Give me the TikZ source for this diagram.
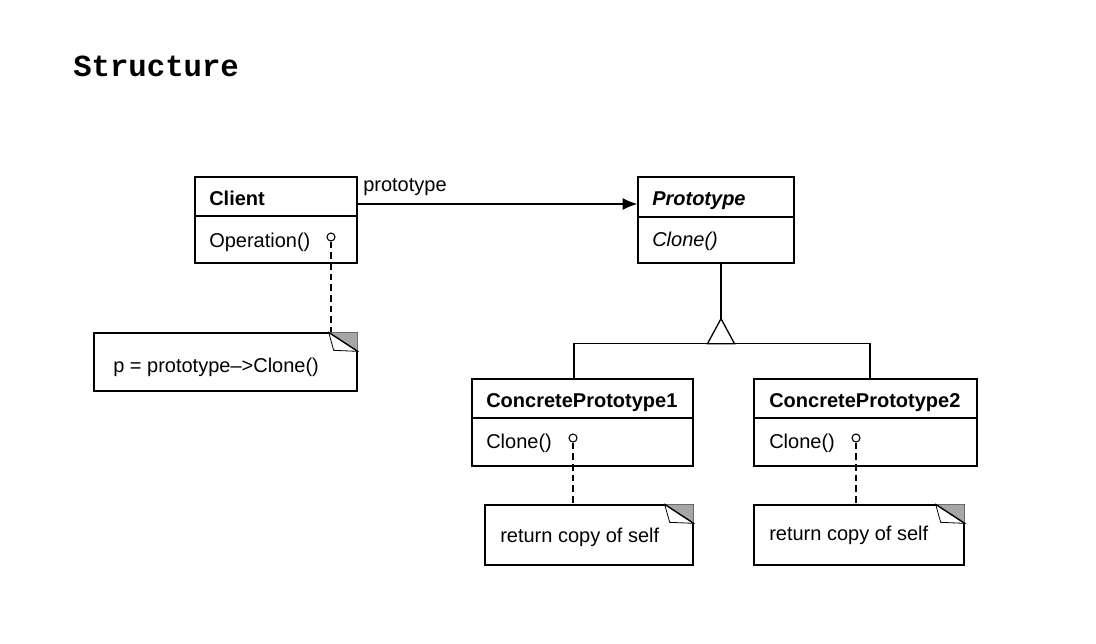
\documentclass[tikz,border=0pt]{standalone}
\usepackage{fontspec}
\setmainfont{Liberation Sans}
\newfontfamily\headfont{Liberation Mono}
\usetikzlibrary{arrows.meta,fit}

\tikzset{
  umlbox/.style={draw, line width=1pt, inner sep=0pt},
  umltext/.style={anchor=base west, inner sep=0pt, font=\fontsize{15}{18}\selectfont},
  notebox/.style={draw, line width=1pt, inner sep=0pt},
  notelink/.style={line width=0.9pt, dash pattern=on 5pt off 3pt},
  pin/.style={circle, draw, line width=0.8pt, inner sep=0pt, minimum size=6pt, fill=white},
}

\begin{document}
\begin{tikzpicture}[x=0.75pt,y=-0.75pt]
\useasboundingbox (0,0) rectangle (1096,643);
\node[anchor=base west, inner sep=0pt, font=\headfont\bfseries\fontsize{23}{26}\selectfont] (title) at (73,76) {Structure};

% classes
\node[umlbox, fit={(195,177) (357,263)}] (client) {};
\draw[line width=1pt] (195,216) -- (357,216);
\node[umltext, font=\fontsize{15}{18}\selectfont\bfseries] (clientname) at (209,205) {Client};
\node[umltext] (clientop) at (209,247) {Operation()};
\node[pin] (clientpin) at (331,237) {};

\node[umlbox, fit={(638,177) (794,263)}] (proto) {};
\draw[line width=1pt] (638,217) -- (794,217);
\node[umltext, font=\fontsize{15}{18}\selectfont\bfseries\itshape] (protoname) at (652,205) {Prototype};
\node[umltext, font=\fontsize{15}{18}\selectfont\itshape] (protoop) at (652,246) {Clone()};

\node[umlbox, fit={(472,379) (693,466)}] (cp1) {};
\draw[line width=1pt] (472,418) -- (693,418);
\node[umltext, font=\fontsize{15}{18}\selectfont\bfseries] (cp1name) at (486,407) {ConcretePrototype1};
\node[umltext] (cp1op) at (486,448) {Clone()};
\node[pin] (cp1pin) at (573,438) {};

\node[umlbox, fit={(754,379) (977,466)}] (cp2) {};
\draw[line width=1pt] (754,418) -- (977,418);
\node[umltext, font=\fontsize{15}{18}\selectfont\bfseries] (cp2name) at (769,407) {ConcretePrototype2};
\node[umltext] (cp2op) at (769,448) {Clone()};
\node[pin] (cp2pin) at (856,438) {};

% notes
\node[notebox, fit={(94,333) (357,391)}] (note1) {};
\node[umltext] (note1text) at (113,372) {p = prototype-->Clone()};
\node[notebox, fit={(485,505) (693,565)}] (note2) {};
\node[umltext] (note2text) at (500,542) {return copy of self};
\node[notebox, fit={(754,505) (964,565)}] (note3) {};
\node[umltext] (note3text) at (769,540) {return copy of self};
\foreach \n in {note1,note2,note3} {
  \fill[black!35] (\n.north east) -- +(-29,0) -- +(0,19) -- cycle;
  \filldraw[fill=white, line width=0.6pt] ([xshift=-21.75pt]\n.north east) -- +(5,18) -- +(29,19) -- cycle;
  \draw[line width=1pt] ([xshift=-21.75pt]\n.north east) -- +(29,19);
}

% links
\draw[line width=1pt, -{Latex[length=11pt,width=9pt]}] ([yshift=12pt]client.east) -- ([yshift=12pt]proto.west);
\node[umltext] (role) at (363,191) {prototype};

\draw[line width=1pt] ([xshift=3.75pt]proto.south) -- ++(0,55) coordinate (apex);
\draw[line width=1pt] (apex) -- ++(-13.5,25) -- ++(27,0) -- cycle;
\path (apex) ++(0,25) coordinate (tribase);
\draw[line width=1pt] ([xshift=-6.4pt]cp1.north) |- (tribase) -| ([xshift=3.4pt]cp2.north);

\draw[notelink] (clientpin) -- (note1.north -| clientpin);
\draw[notelink] (cp1pin) -- (note2.north -| cp1pin);
\draw[notelink] (cp2pin) -- (note3.north -| cp2pin);
\end{tikzpicture}
\end{document}
